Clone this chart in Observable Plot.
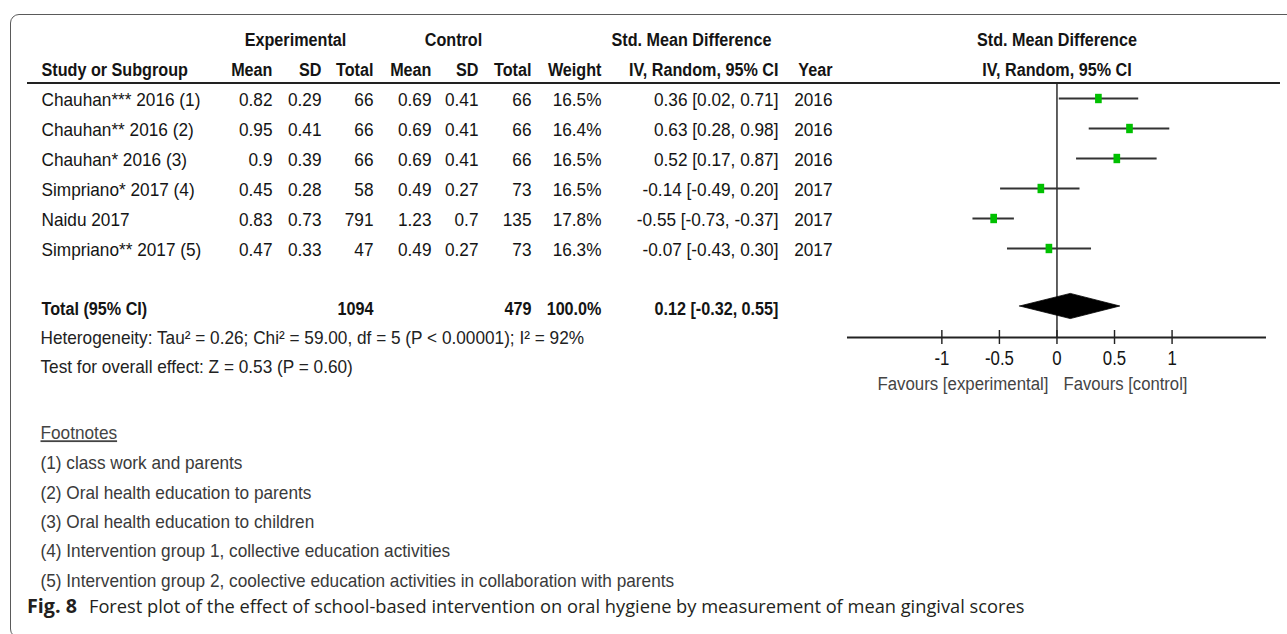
<!DOCTYPE html>
<html><head><meta charset="utf-8">
<script src="https://cdn.jsdelivr.net/npm/d3@7"></script>
<script src="https://cdn.jsdelivr.net/npm/@observablehq/plot@0.6"></script>
<style>
html,body{margin:0;padding:0;background:#fff;}
#page{position:relative;width:1287px;height:634px;overflow:hidden;background:#fff;}
#box{position:absolute;left:10px;top:14px;width:1300px;height:624px;border:1.5px solid #5a5a5a;border-radius:9px;box-sizing:border-box;}
#squeeze{position:absolute;left:0;top:0;transform-origin:0 0;}
#squeeze svg{position:absolute;left:0;top:0;overflow:visible;background:transparent;}
#caption{position:absolute;left:27px;white-space:nowrap;font-family:"Open Sans","Noto Sans",sans-serif;color:#231f20;line-height:1;}
#caption b{font-weight:700;}
</style></head>
<body>
<div id="page"><div id="box"></div><div id="squeeze"></div>
<div id="caption"><b id="capBold">Fig. 8</b><span id="capText">Forest plot of the effect of school-based intervention on oral hygiene by measurement of mean gingival scores</span></div>
</div>
<script>
// ---------------- data ----------------
const studies = ["Chauhan*** 2016 (1)", "Chauhan** 2016 (2)", "Chauhan* 2016 (3)", "Simpriano* 2017 (4)", "Naidu 2017", "Simpriano** 2017 (5)"];
const expMean = [0.82, 0.95, 0.9, 0.45, 0.83, 0.47];
const expSD = [0.29, 0.41, 0.39, 0.28, 0.73, 0.33];
const expTotal = [66, 66, 66, 58, 791, 47];
const ctlMean = [0.69, 0.69, 0.69, 0.49, 1.23, 0.49];
const ctlSD = [0.41, 0.41, 0.41, 0.27, 0.7, 0.27];
const ctlTotal = [66, 66, 66, 73, 135, 73];
const weights = [16.5, 16.4, 16.5, 16.5, 17.8, 16.3];
const smd = [0.36, 0.63, 0.52, -0.14, -0.55, -0.07];
const ciLow = [0.02, 0.28, 0.17, -0.49, -0.73, -0.43];
const ciHigh = [0.71, 0.98, 0.87, 0.20, -0.37, 0.30];
const years = [2016, 2016, 2016, 2017, 2017, 2017];

const totalExp = 1094, totalCtl = 479, totalWeight = 100.0;
const totalSmd = 0.12, totalLow = -0.32, totalHigh = 0.55;

const heterogeneity = "Heterogeneity: Tau² = 0.26; Chi² = 59.00, df = 5 (P < 0.00001); I² = 92%";
const overallTest = "Test for overall effect: Z = 0.53 (P = 0.60)";
const footnoteTitle = "Footnotes";
const footnotes = [
  "(1) class work and parents",
  "(2) Oral health education to parents",
  "(3) Oral health education to children",
  "(4) Intervention group 1, collective education activities",
  "(5) Intervention group 2, coolective education activities in collaboration with parents"
];
const tickValues = [-1, -0.5, 0, 0.5, 1];
const tickLabels = ["-1", "-0.5", "0", "0.5", "1"];
const favourLabels = ["Favours [experimental]", "Favours [control]"];

// ---------------- layout ----------------
const FONT = '"Liberation Sans", Arial, Helvetica, sans-serif';
const FS = 18, FSB = 19;
const cv = document.createElement("canvas").getContext("2d");
function tw(str, font) { cv.font = font; return cv.measureText(str).width; }
const f = 159 / tw(studies[0], `${FS}px ${FONT}`);   // horizontal condense factor
const V = px => px / f;                                // final px -> virtual px
const ROW = px => (px - 98) / 30;                      // final y px -> row units
const W = 1287 / f, H = 634;

const rows = studies.map((s, i) => ({
  idx: i, study: s, expMean: expMean[i], expSD: expSD[i], expTotal: expTotal[i],
  ctlMean: ctlMean[i], ctlSD: ctlSD[i], ctlTotal: ctlTotal[i], weight: weights[i],
  smd: smd[i], lo: ciLow[i], hi: ciHigh[i], year: years[i]
}));
const fmt2 = v => v.toFixed(2);
const ciText = (e, l, h) => `${fmt2(e)} [${fmt2(l)}, ${fmt2(h)}]`;

const cols = [
  {key: "expMean", x: 272, fmt: String},
  {key: "expSD", x: 321, fmt: String},
  {key: "expTotal", x: 373, fmt: String},
  {key: "ctlMean", x: 431, fmt: String},
  {key: "ctlSD", x: 478, fmt: String},
  {key: "ctlTotal", x: 531, fmt: String},
  {key: "weight", x: 601, fmt: v => v.toFixed(1) + "%"},
  {key: "ci", x: 778, fmt: null},
  {key: "year", x: 832, fmt: String}
];
const headTop = [["Experimental", 295], ["Control", 453], ["Std. Mean Difference", 691]];
const headSub = [["Mean", 272], ["SD", 321], ["Total", 373], ["Mean", 431], ["SD", 478], ["Total", 531], ["Weight", 601], ["IV, Random, 95% CI", 778], ["Year", 832]];

const DY = 2;
const TR = ROW(306);   // total row

const tableMarks = [
  Plot.ruleY([ROW(82.5)], {x1: 27, x2: 1280, stroke: "#222", strokeWidth: 1.8}),
  Plot.text(headTop, {x: d => d[1], y: ROW(38), text: d => d[0], fontWeight: "bold", fontSize: FSB, dy: 1}),
  Plot.text(["Study or Subgroup"], {x: 41, y: ROW(68), text: d => d, textAnchor: "start", fontWeight: "bold", fontSize: FSB, dy: 1}),
  Plot.text(headSub, {x: d => d[1], y: ROW(68), text: d => d[0], textAnchor: "end", fontWeight: "bold", fontSize: FSB, dy: 1}),
  Plot.text(rows, {x: 41, y: "idx", text: "study", textAnchor: "start", dy: DY}),
  ...cols.map(c => Plot.text(rows, {
    x: c.x, y: "idx", textAnchor: "end", dy: DY,
    text: c.key === "ci" ? d => ciText(d.smd, d.lo, d.hi) : d => c.fmt(d[c.key])
  })),
  Plot.text(["Total (95% CI)"], {x: 41, y: TR, text: d => d, textAnchor: "start", fontWeight: "bold", fontSize: FSB, dy: DY}),
  Plot.text([[String(totalExp), 373], [String(totalCtl), 531], [totalWeight.toFixed(1) + "%", 601], [ciText(totalSmd, totalLow, totalHigh), 778]],
    {x: d => d[1], y: TR, text: d => d[0], textAnchor: "end", fontWeight: "bold", fontSize: FSB, dy: DY}),
  Plot.text([heterogeneity], {x: 40, y: ROW(337), text: d => d, textAnchor: "start", dy: 1, fill: "#222"}),
  Plot.text([overallTest], {x: 40, y: ROW(366), text: d => d, textAnchor: "start", dy: 1, fill: "#222"}),
  Plot.text([footnoteTitle], {x: 40, y: ROW(432), text: d => d, textAnchor: "start", dy: 1, fill: "#444"}),
  Plot.text(footnotes, {x: 40, y: (d, i) => ROW(462 + 29.4 * i), text: d => d, textAnchor: "start", dy: 1, fill: "#3a3a3a"})
];

const tableSvg = Plot.plot({
  width: W, height: H, margin: 0,
  x: {domain: [0, 1287], range: [0, W], axis: null},
  y: {domain: [0, 5], range: [98, 248], axis: null},
  style: {fontFamily: FONT, fontSize: FS + "px", color: "#141414", background: "transparent"},
  marks: tableMarks
});

// custom tall-rectangle symbol for study estimates
const rectSymbol = {draw(ctx, size) { const r = Math.sqrt(size / Math.PI); ctx.rect(-0.74 * r, -r, 1.48 * r, 2 * r); }};

const diamond = [
  {x: totalLow, y1: TR, y2: TR},
  {x: totalSmd, y1: TR - 0.42, y2: TR + 0.42},
  {x: totalHigh, y1: TR, y2: TR}
];

const forestSvg = Plot.plot({
  width: W, height: H, margin: 0,
  x: {domain: [-1.82, 1.82], range: [V(847), V(1266)], axis: null},
  y: {domain: [0, 5], range: [98, 248], axis: null},
  style: {fontFamily: FONT, fontSize: "19.5px", color: "#141414", background: "transparent"},
  marks: [
    Plot.text(["Std. Mean Difference"], {x: 0, y: ROW(38), text: d => d, fontWeight: "bold", fontSize: FSB, dy: 1}),
    Plot.text(["IV, Random, 95% CI"], {x: 0, y: ROW(68), text: d => d, fontWeight: "bold", fontSize: FSB, dy: 1}),
    Plot.ruleX([0], {y1: ROW(83), y2: ROW(337), stroke: "#222", strokeWidth: 1.5}),
    Plot.ruleY(rows, {y: "idx", x1: "lo", x2: "hi", stroke: "#333", strokeWidth: 2}),
    Plot.dot(rows, {x: "smd", y: "idx", symbol: rectSymbol, r: 4.7, fill: "#00c000", stroke: null}),
    Plot.areaY(diamond, {x: "x", y1: "y1", y2: "y2", fill: "#000", stroke: "#000", strokeWidth: 0.8}),
    Plot.ruleY([ROW(337)], {x1: -1.82, x2: 1.82, stroke: "#222", strokeWidth: 2}),
    Plot.ruleX(tickValues, {x: d => d, y1: ROW(330), y2: ROW(344), stroke: "#222", strokeWidth: 1.5}),
    Plot.text(tickValues, {x: d => d, y: ROW(357), text: (d, i) => tickLabels[i], dy: 1}),
    Plot.text([favourLabels[0]], {x: 0, y: ROW(382), text: d => d, textAnchor: "end", dx: V(-8.5), fontSize: 19, fill: "#444", dy: 1}),
    Plot.text([favourLabels[1]], {x: 0, y: ROW(382), text: d => d, textAnchor: "start", dx: V(6.5), fontSize: 19, fill: "#444", dy: 1})
  ]
});

const sq = document.getElementById("squeeze");
sq.style.width = W + "px"; sq.style.height = H + "px";
sq.style.transform = `scaleX(${f})`;
sq.appendChild(tableSvg);
sq.appendChild(forestSvg);

// ---- text width fitting (glyph condensing, text stays real text) ----
function setLen(el, len) { el.setAttribute("textLength", len); el.setAttribute("lengthAdjust", "spacingAndGlyphs"); }
function fitText(svg, str, finalWidth) {
  d3.select(svg).selectAll("text").filter(function () { return this.textContent === str; })
    .each(function () { setLen(this, finalWidth / f); });
}
// bold: common condense factor fitted on measured header widths
const boldFits = [["Std. Mean Difference", 162], ["Study or Subgroup", 144], ["Experimental", 104], ["IV, Random, 95% CI", 148], ["Total (95% CI)", 104], ["1094", 38], ["100.0%", 54]];
let sumT = 0, sumL = 0;
d3.select(tableSvg).selectAll('g[font-weight="bold"] text').each(function () {
  const hit = boldFits.find(b => b[0] === this.textContent);
  if (hit) { sumT += hit[1] / f; sumL += this.getComputedTextLength(); }
});
const kb = sumT / sumL;
for (const svg of [tableSvg, forestSvg]) {
  d3.select(svg).selectAll('g[font-weight="bold"] text').each(function () { setLen(this, this.getComputedTextLength() * kb); });
}
// tick labels slightly condensed
d3.select(forestSvg).selectAll("text").filter(function () { return tickLabels.includes(this.textContent); })
  .each(function () { setLen(this, this.getComputedTextLength() * 0.9); });
fitText(forestSvg, favourLabels[0], 171);
fitText(forestSvg, favourLabels[1], 124);
d3.select(tableSvg).selectAll("text").filter(function () { return this.textContent === footnoteTitle; })
  .attr("text-decoration", "underline");

// caption fit
const capFont = '"Open Sans","Noto Sans",sans-serif';
const capRest = document.getElementById("capText").textContent;
const base = 16;
const bs = base * 50 / tw("Fig. 8", `700 ${base}px ${capFont}`);
const rs = base * 936 / tw(capRest, `${base}px ${capFont}`);
document.getElementById("capBold").style.fontSize = bs + "px";
const ct = document.getElementById("capText");
ct.style.fontSize = rs + "px";
ct.style.marginLeft = "12px";
const cap = document.getElementById("caption");
cap.style.fontSize = rs + "px";
cap.style.top = (605 - 0.5 * rs) + "px";
</script>
</body></html>
